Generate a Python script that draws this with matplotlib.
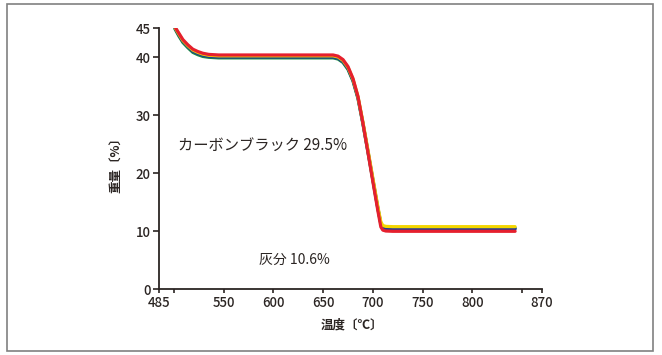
"""
TG curve: carbon black / ash content (reproduction).
"""
import matplotlib
matplotlib.use("Agg")
import matplotlib.pyplot as plt
from matplotlib.patches import Rectangle

plt.rcParams["font.family"] = ["Noto Sans CJK JP", "DejaVu Sans"]

# temperature (deg C), shared by the four runs
TEMP = [501, 505, 509, 514, 519, 524, 529, 535, 545, 600, 660, 665, 670, 675,
        680, 685, 690, 695, 700, 705, 708, 710, 713, 720, 780, 843]

# weight (%) of each run
W_GREEN = [44.85, 43.6, 42.5, 41.6, 40.8, 40.4, 40.1, 39.95, 39.85, 39.85, 39.85,
           39.65, 39.05, 37.85, 35.85, 32.85, 28.45, 23.65, 18.75, 13.85, 11.2,
           10.6, 10.5, 10.5, 10.5, 10.5]
W_BLUE = [45.0, 43.8, 42.7, 41.8, 41.0, 40.6, 40.3, 40.1, 40.0, 40.0, 40.0,
          39.8, 39.2, 38.0, 36.0, 33.0, 28.6, 23.8, 18.9, 14.0, 11.3,
          10.6, 10.4, 10.35, 10.35, 10.35]
W_YELLOW = [45.1, 43.95, 42.85, 41.95, 41.2, 40.8, 40.5, 40.3, 40.2, 40.2, 40.2,
            40.0, 39.4, 38.2, 36.2, 33.2, 28.8, 24.0, 19.1, 14.2, 11.6,
            10.95, 10.8, 10.75, 10.75, 10.75]
W_RED = [45.2, 44.1, 43.0, 42.1, 41.35, 40.95, 40.65, 40.45, 40.35, 40.35, 40.35,
         40.15, 39.55, 38.35, 36.3, 33.2, 28.6, 23.6, 18.5, 13.5, 10.7,
         10.15, 10.0, 9.95, 9.95, 9.95]

SERIES = [
    (W_GREEN, "#1a8c3c"),
    (W_BLUE, "#1d3c96"),
    (W_YELLOW, "#f4d600"),
    (W_RED, "#e5202e"),
]

X_TICKS = [485, 500, 550, 600, 650, 700, 750, 800, 850, 870]
X_LABELS = ["485", "", "550", "600", "650", "700", "750", "800", "", "870"]
Y_TICKS = [0, 10, 20, 30, 40, 45]

DARK = "#2b2523"

fig = plt.figure(figsize=(6.62, 3.55), dpi=100)
ax = fig.add_axes([0.2402, 0.1859, 0.5785, 0.7352])

for w, c in SERIES:
    ax.plot(TEMP, w, color=c, lw=2.3, solid_capstyle="round", solid_joinstyle="round")

ax.set_xlim(485, 870)
ax.set_ylim(0, 45)
ax.set_xticks(X_TICKS)
ax.set_xticklabels(X_LABELS)
ax.set_yticks(Y_TICKS)
for s in ["top", "right"]:
    ax.spines[s].set_visible(False)
for s in ["left", "bottom"]:
    ax.spines[s].set_color(DARK)
    ax.spines[s].set_linewidth(1.3)
ax.tick_params(axis="both", colors=DARK, labelsize=9.5, width=1.2, pad=2)
for lab in ax.get_xticklabels() + ax.get_yticklabels():
    lab.set_fontweight("medium")
ax.tick_params(axis="x", length=3)
ax.tick_params(axis="y", length=4)

ax.text(504, 24.8, "カーボンブラック 29.5%", fontsize=11, color=DARK, va="center")
ax.text(586, 5.0, "灰分 10.6%", fontsize=10, color=DARK, va="center")

fig.text(0.1767, 0.545, "重量〔%〕", rotation=90, fontsize=9, fontweight="bold",
         color=DARK, ha="center", va="center")
fig.text(0.5317, 0.0845, "温度〔℃〕", fontsize=9, fontweight="bold",
         color=DARK, ha="center", va="center")

# outer frame
fig.patches.append(Rectangle((0.0106, 0.0113), 0.9758, 0.9775, transform=fig.transFigure,
                             fill=False, edgecolor="#808080", lw=1.2))

fig.savefig("out.png", dpi=100)
